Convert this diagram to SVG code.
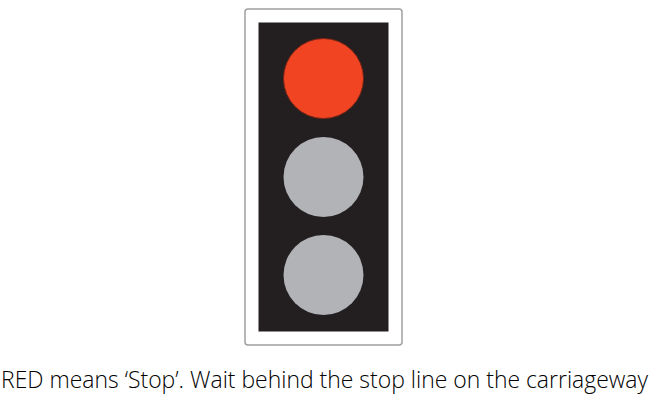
<svg xmlns="http://www.w3.org/2000/svg" width="650" height="400" viewBox="0 0 650 400">
<style>
.lamp{stroke:none}
.off{fill:#b1b3b6}
text{font-family:"Open Sans","Lato",sans-serif;font-weight:300;font-size:23px;fill:#000}
</style>
<rect width="650" height="400" fill="#fff"/>
<g id="signal">
<rect x="245" y="9" width="157" height="336" rx="3" fill="#fff" stroke="#a0a0a0" stroke-width="1.5"/>
<rect x="258.500" y="22.500" width="130" height="309" fill="#231f20"/>
</g>
<circle id="lamp-red" cx="323.500" cy="78.500" r="40" fill="#f04423" stroke="#7a2415" stroke-width="1"/>
<circle id="lamp-amber" class="lamp off" cx="323.500" cy="177" r="40"/>
<circle id="lamp-green" class="lamp off" cx="323.500" cy="275" r="40"/>
<text id="caption" x="1" y="388" textLength="647" lengthAdjust="spacingAndGlyphs">RED means ‘Stop’. Wait behind the stop line on the carriageway</text>
</svg>
